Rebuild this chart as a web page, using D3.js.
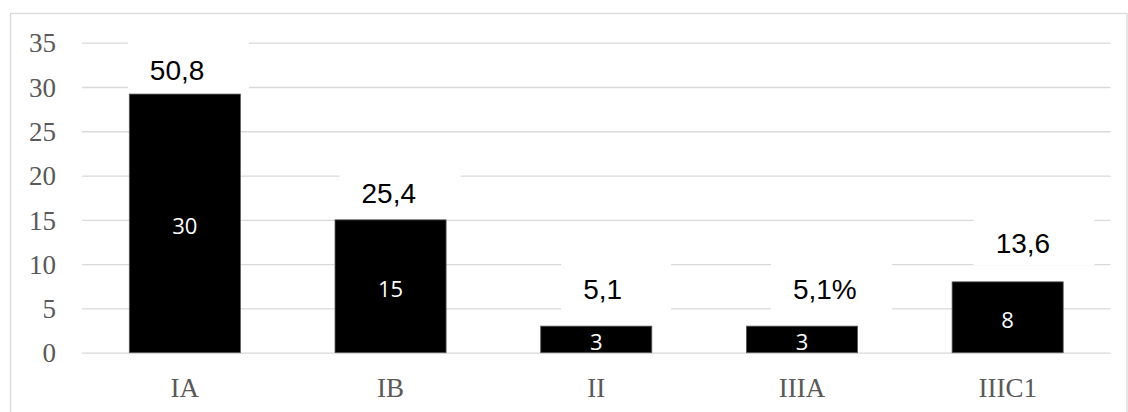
<!DOCTYPE html>
<html>
<head>
<meta charset="utf-8">
<script src="https://cdn.jsdelivr.net/npm/d3@7"></script>
<style>
  html, body { margin: 0; padding: 0; background: #fff; }
  svg { display: block; }
</style>
</head>
<body>
<svg id="chart" width="1128" height="412"></svg>
<script>
// ---- data ----
const categories = ["IA", "IB", "II", "IIIA", "IIIC1"];
const counts = [29.2, 15, 3, 3, 8];
const countLabels = ["30", "15", "3", "3", "8"];
const percentLabels = ["50,8", "25,4", "5,1", "5,1%", "13,6"];
const yTickValues = [0, 5, 10, 15, 20, 25, 30, 35];

// ---- layout (not data) ----
const labelDx = [-35, -29, -13, -9, -12];      // text start relative to bar centre
const labelDy = [14.3, 17.1, 26.7, 26.7, 28.4]; // baseline above bar top

const W = 1128, H = 412;
const plot = { left: 82, right: 1110.5, top: 42.7, bottom: 352.7 };

const svg = d3.select("#chart");

// chart border
svg.append("rect")
  .attr("x", 10.5).attr("y", 13.5)
  .attr("width", 1116.5).attr("height", 420)
  .attr("fill", "none").attr("stroke", "#d9d9d9").attr("stroke-width", 1.3);

const x = d3.scaleBand().domain(categories)
  .range([plot.left, plot.right])
  .paddingInner(0.46).paddingOuter(0.23);
const y = d3.scaleLinear().domain([0, 35]).range([plot.bottom, plot.top]);

// gridlines
const yAxis = d3.axisLeft(y).tickValues(yTickValues)
  .tickSize(-(plot.right - plot.left)).tickPadding(26).tickFormat(d3.format("d"));
const gy = svg.append("g").attr("transform", `translate(${plot.left},0)`).call(yAxis);
gy.select(".domain").remove();
gy.selectAll(".tick line").attr("stroke", "#d9d9d9").attr("stroke-width", 1.3);
gy.selectAll(".tick text")
  .attr("fill", "#595959")
  .attr("font-family", "'Liberation Serif', 'Times New Roman', serif")
  .attr("font-size", 27)
  .attr("dy", "0.34em");

// bars
svg.append("g").selectAll("rect").data(categories).join("rect")
  .attr("x", d => x(d))
  .attr("y", (d, i) => y(counts[i]))
  .attr("width", x.bandwidth())
  .attr("height", (d, i) => y(0) - y(counts[i]))
  .attr("fill", "#000")
  .attr("stroke", "#595959").attr("stroke-width", 0.8);

// inner count labels
svg.append("g").selectAll("text").data(categories).join("text")
  .attr("x", d => x(d) + x.bandwidth() / 2)
  .attr("y", (d, i) => (y(counts[i]) + y(0)) / 2 + 1.5)
  .attr("text-anchor", "middle")
  .attr("dominant-baseline", "central")
  .attr("fill", "#fff")
  .attr("font-family", "'Open Sans', sans-serif")
  .attr("font-size", 22)
  .text((d, i) => countLabels[i]);

// percentage labels with white boxes
const pg = svg.append("g");
categories.forEach((c, i) => {
  const cx = x(c) + x.bandwidth() / 2;
  const tx = cx + labelDx[i];
  const ty = y(counts[i]) - labelDy[i];
  const g = pg.append("g");
  const box = g.append("rect").attr("fill", "#fff");
  const t = g.append("text")
    .attr("x", tx).attr("y", ty)
    .attr("text-anchor", "start")
    .attr("fill", "#000")
    .attr("font-family", "'Liberation Sans', Arial, sans-serif")
    .attr("font-size", 28)
    .text(percentLabels[i]);
  const tw = t.node().getComputedTextLength();
  const bw = Math.min(121, tw + 71);
  box.attr("x", tx - 22).attr("y", ty - 40).attr("width", bw).attr("height", 52);
});

// x category labels
svg.append("g").selectAll("text").data(categories).join("text")
  .attr("x", d => x(d) + x.bandwidth() / 2)
  .attr("y", 397)
  .attr("text-anchor", "middle")
  .attr("fill", "#595959")
  .attr("font-family", "'Liberation Serif', 'Times New Roman', serif")
  .attr("font-size", 27)
  .text(d => d);
</script>
</body>
</html>
